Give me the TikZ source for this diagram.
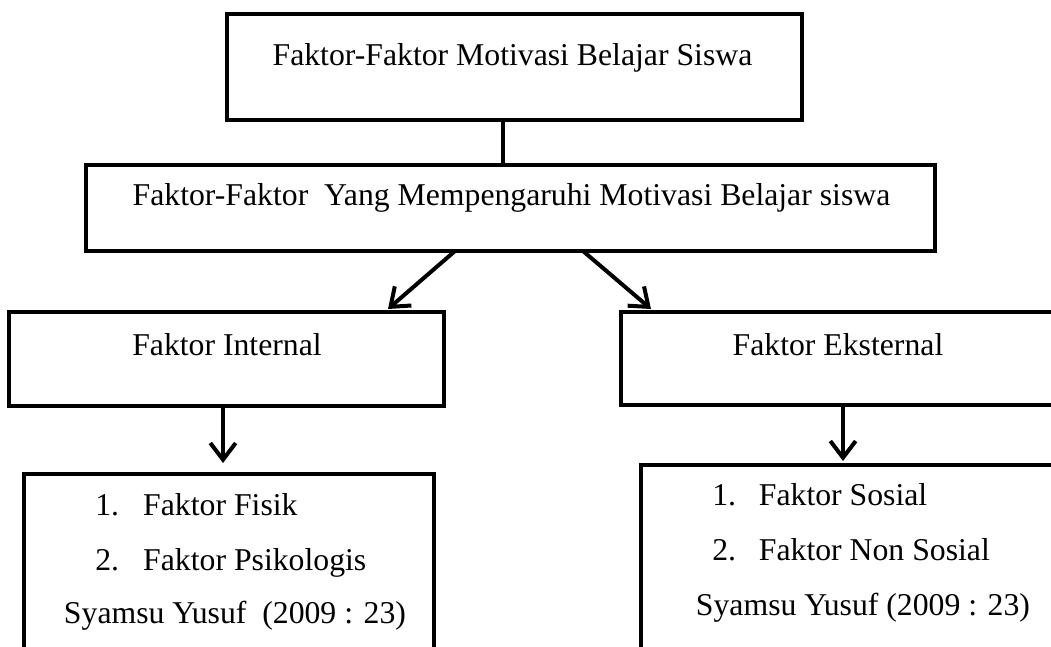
\documentclass[tikz,border=0pt]{standalone}
\usepackage{fontspec}
\setmainfont{Liberation Serif}
\usetikzlibrary{arrows.meta,fit}
\begin{document}
\begin{tikzpicture}[x=0.75pt,y=-0.75pt,
  box/.style={draw,line width=3pt,rectangle,inner sep=0pt,outer sep=0pt},
  lbl/.style={font=\fontsize{23.8}{28}\selectfont,inner sep=0pt,anchor=base},
  conn/.style={line width=3pt,-{Straight Barb[length=12.5pt,width=19pt]}},
  plain/.style={line width=3pt}]
\useasboundingbox (0,0) rectangle (1051,647);
\clip (0,0) rectangle (1051,647);
% boxes
\node[box,fit={(227,14)(802,120)}] (top) {};
\node[box,fit={(86,165)(935,251)}] (mid) {};
\node[box,fit={(9,312)(444,406)}] (int) {};
\node[box,fit={(621,312)(1080,405)}] (ext) {};
\node[box,fit={(24,474)(434,700)}] (lint) {};
\node[box,fit={(641,465)(1080,700)}] (lext) {};
% texts
\node[lbl] (ttop) at (512.5,65) {Faktor-Faktor Motivasi Belajar Siswa};
\node[lbl] (tmid) at (511.5,205) {Faktor-Faktor\ \ Yang Mempengaruhi Motivasi Belajar siswa};
\node[lbl] (tint) at (227,355) {Faktor Internal};
\node[lbl] (text) at (838,355) {Faktor Eksternal};
\node[lbl,anchor=base west] (i1) at (95,515) {\makebox[36pt][l]{1.}Faktor Fisik};
\node[lbl,anchor=base west] (i2) at (95,570) {\makebox[36pt][l]{2.}Faktor Psikologis};
\node[lbl] (i3) at (235,623) {Syamsu Yusuf\ \ (2009 : 23)};
\node[lbl,anchor=base west] (e1) at (712,505) {\makebox[35pt][l]{1.}Faktor Sosial};
\node[lbl,anchor=base west] (e2) at (712,560) {\makebox[35pt][l]{2.}Faktor Non Sosial};
\node[lbl] (e3) at (863,615) {Syamsu Yusuf (2009 : 23)};
% connector x positions
\coordinate (xa) at (503,0);
\coordinate (xb) at (455,0);
\coordinate (xc) at (388,0);
\coordinate (xd) at (583,0);
\coordinate (xe) at (651,0);
\coordinate (xf) at (223,0);
\coordinate (xg) at (843,0);
% connectors
\draw[plain] (top.south -| xa) -- (mid.north -| xa);
\draw[conn] (mid.south -| xb) -- ([yshift=2.25pt]int.north -| xc);
\draw[conn] (mid.south -| xd) -- ([yshift=2.25pt]ext.north -| xe);
\draw[conn,shorten >=8.25pt] (int.south -| xf) -- (lint.north -| xf);
\draw[conn,shorten >=3pt] (ext.south -| xg) -- (lext.north -| xg);
\end{tikzpicture}
\end{document}
